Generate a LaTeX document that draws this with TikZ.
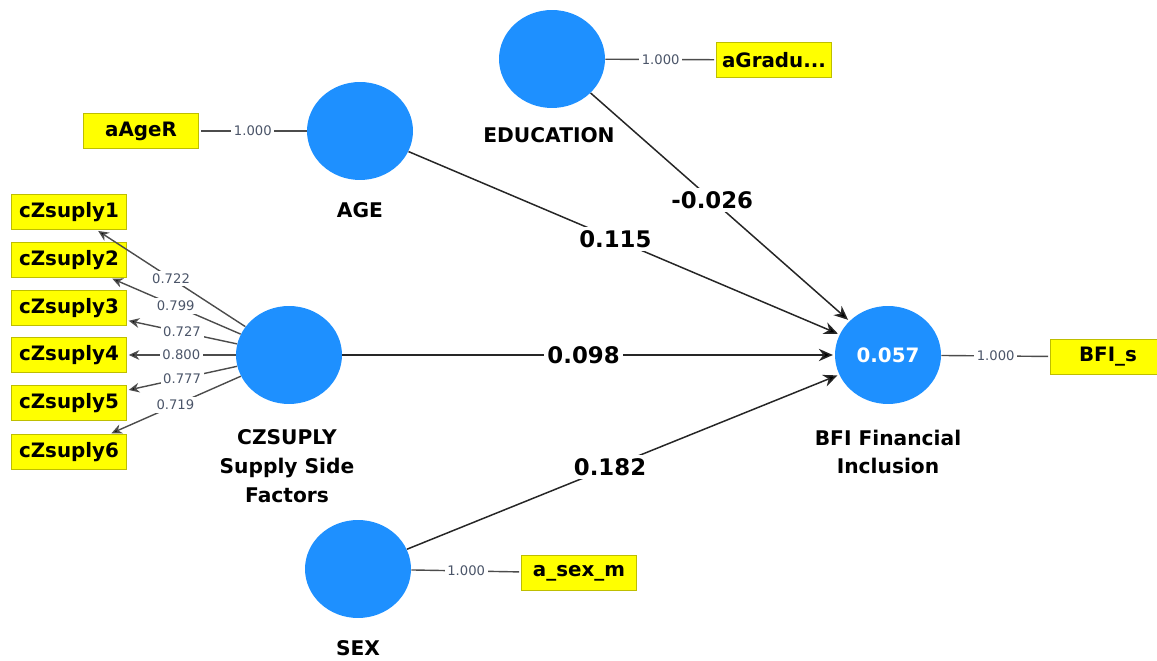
\documentclass[tikz,border=0pt]{standalone}
\usepackage{fontspec}
\setmainfont{DejaVu Sans}
\usetikzlibrary{shapes.geometric,arrows.meta}
\definecolor{lvblue}{RGB}{30,144,255}
\definecolor{mvyellow}{RGB}{255,255,0}
\definecolor{mvborder}{RGB}{190,190,0}
\definecolor{loadgray}{RGB}{75,85,105}

\begin{document}
\begin{tikzpicture}[x=0.02cm,y=-0.02cm,shorten >=1pt,
		latent/.style={ellipse,fill=lvblue,minimum width=2.12cm,minimum height=1.96cm,inner sep=0pt,
			text=white,font=\fontsize{11.3}{13}\selectfont\bfseries},
		ind/.style={rectangle,fill=mvyellow,draw=mvborder,line width=0.6pt,minimum width=2.3cm,
			minimum height=0.7cm,inner sep=0pt,font=\fontsize{11.3}{13}\selectfont\bfseries},
		lvname/.style={align=center,font=\fontsize{11.5}{16.4}\selectfont\bfseries},
		load/.style={fill=white,inner sep=1.5pt,text=loadgray,font=\fontsize{7.5}{9}\selectfont},
		coef/.style={fill=white,inner sep=2pt,font=\fontsize{13}{15}\selectfont\bfseries},
		inner/.style={draw=black!85,line width=0.85pt,>={Stealth[length=8pt,width=7pt]}},
		outer/.style={draw=black!70,line width=0.8pt,>={Stealth[length=6pt,width=5.5pt]}}]
		\useasboundingbox (0,0) rectangle (1157,661);

		% constructs
		\node[latent] (edu) at (552,59) {};
		\node[latent] (age) at (360,131) {};
		\node[latent] (cz) at (289,355) {};
		\node[latent] (bfi) at (888,355) {0.057};
		\node[latent] (sex) at (358,569) {};

		\node[lvname] (edulbl) at (549,135) {EDUCATION};
		\node[lvname] (agelbl) at (360,210) {AGE};
		\node[lvname] (czlbl) at (287,466) {CZSUPLY\\Supply Side\\Factors};
		\node[lvname] (bfilbl) at (888,452) {BFI Financial\\Inclusion};
		\node[lvname] (sexlbl) at (358,648) {SEX};

		% indicators
		\node[ind] (grad) at (774,60) {aGradu...};
		\node[ind] (ager) at (141,131) {aAgeR};
		\node[ind] (sexm) at (579,573) {a\_sex\_m};
		\node[ind] (bfis) at (1108,357) {BFI\_s};
		\node[ind] (cz1) at (69,212) {cZsuply1};
		\node[ind] (cz2) at (69,260) {cZsuply2};
		\node[ind] (cz3) at (69,308) {cZsuply3};
		\node[ind] (cz4) at (69,355) {cZsuply4};
		\node[ind] (cz5) at (69,403) {cZsuply5};
		\node[ind] (cz6) at (69,452) {cZsuply6};

		\path[->,inner] (age) edge node[coef,pos=0.48] {0.115} (bfi)
				  (edu) edge node[coef,pos=0.47] {-0.026} (bfi)
				  (cz) edge node[coef,pos=0.49] {0.098} (bfi)
				  (sex) edge node[coef,pos=0.47] {0.182} (bfi);

		\path[->,outer] (cz) edge node[load] {0.722} (cz1)
				  (cz) edge node[load] {0.799} (cz2)
				  (cz) edge node[load] {0.727} (cz3)
				  (cz) edge node[load] {0.800} (cz4)
				  (cz) edge node[load] {0.777} (cz5)
				  (cz) edge node[load] {0.719} (cz6);

		\path[outer] (edu) edge node[load] {1.000} (grad)
				  (age) edge node[load] {1.000} (ager)
				  (sex) edge node[load] {1.000} (sexm)
				  (bfi) edge node[load] {1.000} (bfis);
	\end{tikzpicture}
\end{document}
